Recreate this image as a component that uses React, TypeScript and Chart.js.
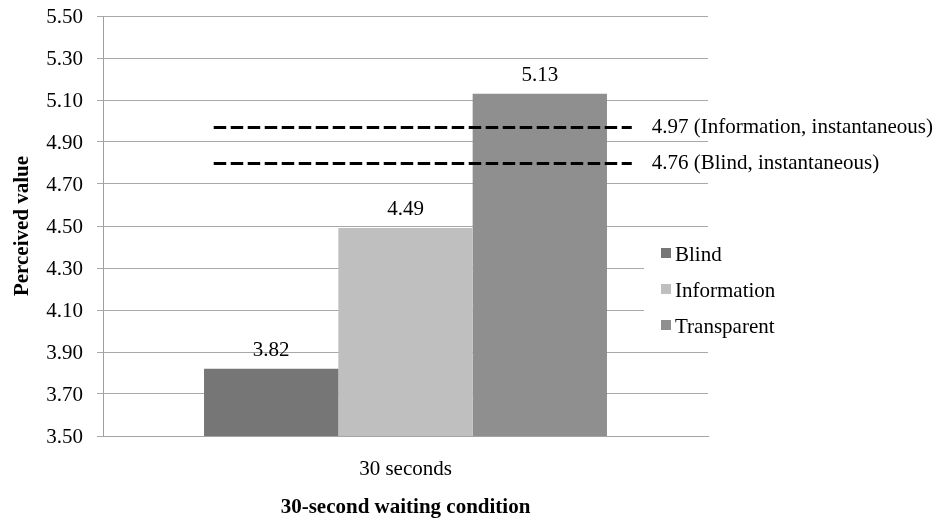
import { useEffect, useRef } from "react";
import { Chart, registerables } from "chart.js";

Chart.register(...registerables);

// ---- data ----
const categories = ["30 seconds"];
const seriesNames = ["Blind", "Information", "Transparent"];
const blindValues = [3.82];
const informationValues = [4.49];
const transparentValues = [5.13];
const seriesColors = ["#767676", "#bfbfbf", "#8f8f8f"];
const referenceLevels = [4.97, 4.8];
const referenceLabels = [
  "4.97 (Information, instantaneous)",
  "4.76 (Blind, instantaneous)",
];
const yMin = 3.5;
const yMax = 5.5;
const yStep = 0.2;
const yAxisTitle = "Perceived value";
const xAxisTitle = "30-second waiting condition";

const FONT = "'Liberation Serif', 'Times New Roman', serif";

const dataLabelPlugin = {
  id: "dataLabels",
  afterDatasetsDraw(chart: any) {
    const ctx = chart.ctx;
    ctx.save();
    ctx.font = `21px ${FONT}`;
    ctx.fillStyle = "#000";
    ctx.textAlign = "center";
    ctx.textBaseline = "alphabetic";
    chart.data.datasets.forEach((ds: any, di: number) => {
      if (ds.type && ds.type !== "bar") return;
      const meta = chart.getDatasetMeta(di);
      meta.data.forEach((el: any, i: number) => {
        const v = ds.data[i];
        ctx.fillText(Number(v).toFixed(2), el.x, el.y - 13);
      });
    });
    ctx.restore();
  },
};

const referencePlugin = {
  id: "referenceLines",
  afterDatasetsDraw(chart: any) {
    const ctx = chart.ctx;
    const area = chart.chartArea;
    const yScale = chart.scales.y;
    const w = area.right - area.left;
    const x0 = area.left + 0.183 * w;
    const x1 = area.left + 0.874 * w;
    ctx.save();
    referenceLevels.forEach((lvl, i) => {
      const y = Math.round(yScale.getPixelForValue(lvl)) + 0.5;
      ctx.beginPath();
      ctx.setLineDash([12.5, 4.5]);
      ctx.lineWidth = 3;
      ctx.lineCap = "butt";
      ctx.strokeStyle = "#000";
      ctx.moveTo(x0, y);
      ctx.lineTo(x1, y);
      ctx.stroke();
      ctx.setLineDash([]);
      ctx.font = `21px ${FONT}`;
      ctx.fillStyle = "#000";
      ctx.textAlign = "left";
      ctx.textBaseline = "middle";
      ctx.fillText(referenceLabels[i], x1 + 20, y);
    });
    ctx.restore();
  },
};

const legendPlugin = {
  id: "customLegend",
  afterDraw(chart: any) {
    const ctx = chart.ctx;
    const area = chart.chartArea;
    const boxLeft = area.right - 64;
    const top = 236;
    ctx.save();
    ctx.fillStyle = "#fff";
    ctx.fillRect(boxLeft, top, 200, 110);
    ctx.font = `21px ${FONT}`;
    ctx.textAlign = "left";
    ctx.textBaseline = "middle";
    chart.data.datasets.forEach((ds: any, i: number) => {
      const cy = 255 + i * 36;
      ctx.fillStyle = ds.backgroundColor;
      ctx.fillRect(boxLeft + 17, cy - 7, 10, 10);
      ctx.fillStyle = "#000";
      ctx.fillText(ds.label, boxLeft + 31, cy);
    });
    ctx.restore();
  },
};

export default function App() {
  const canvasRef = useRef<HTMLCanvasElement | null>(null);

  useEffect(() => {
    if (!canvasRef.current) return;
    const seriesValues = [blindValues, informationValues, transparentValues];
    const chart = new Chart(canvasRef.current, {
      type: "bar",
      data: {
        labels: categories,
        datasets: seriesNames.map((name, i) => ({
          label: name,
          data: seriesValues[i],
          backgroundColor: seriesColors[i],
          borderWidth: 0,
          categoryPercentage: 0.666,
          barPercentage: 1,
        })),
      },
      options: {
        animation: false,
        responsive: true,
        maintainAspectRatio: false,
        layout: { padding: { top: 16, right: 230, bottom: 0, left: 0 } },
        plugins: {
          legend: { display: false },
          tooltip: { enabled: false },
        },
        scales: {
          x: {
            grid: { display: false, drawTicks: false },
            border: { display: true, color: "#a5a5a5" },
            ticks: {
              color: "#000",
              font: { family: FONT, size: 21 },
              padding: 21,
            },
            title: {
              display: true,
              text: xAxisTitle,
              color: "#000",
              font: { family: FONT, size: 21, weight: "bold" },
              padding: { top: 0, bottom: 5 },
            },
            afterFit(scale: any) {
              scale.height = 89;
              scale.paddingLeft = 0;
              scale.paddingRight = 0;
            },
          },
          y: {
            min: yMin,
            max: yMax,
            grid: {
              color: "#a8a8a8",
              lineWidth: 1,
              drawTicks: true,
              tickLength: 6,
            },
            border: { display: true, color: "#a0a0a0", width: 1 },
            ticks: {
              stepSize: yStep,
              color: "#000",
              font: { family: FONT, size: 21 },
              padding: 14,
              labelOffset: 1,
              callback: (v: any) => Number(v).toFixed(2),
            },
            title: {
              display: true,
              text: yAxisTitle,
              color: "#000",
              font: { family: FONT, size: 21, weight: "bold" },
              padding: { top: 10, bottom: 0 },
            },
            afterFit(scale: any) {
              scale.width = 103;
              scale.paddingTop = 0;
              scale.paddingBottom = 0;
            },
          },
        },
      },
      plugins: [dataLabelPlugin, referencePlugin, legendPlugin],
    } as any);
    return () => chart.destroy();
  }, []);

  return (
    <div
      style={{
        position: "absolute",
        left: 0,
        top: 0,
        width: 938,
        height: 525,
        background: "#fff",
      }}
    >
      <canvas ref={canvasRef} />
    </div>
  );
}
